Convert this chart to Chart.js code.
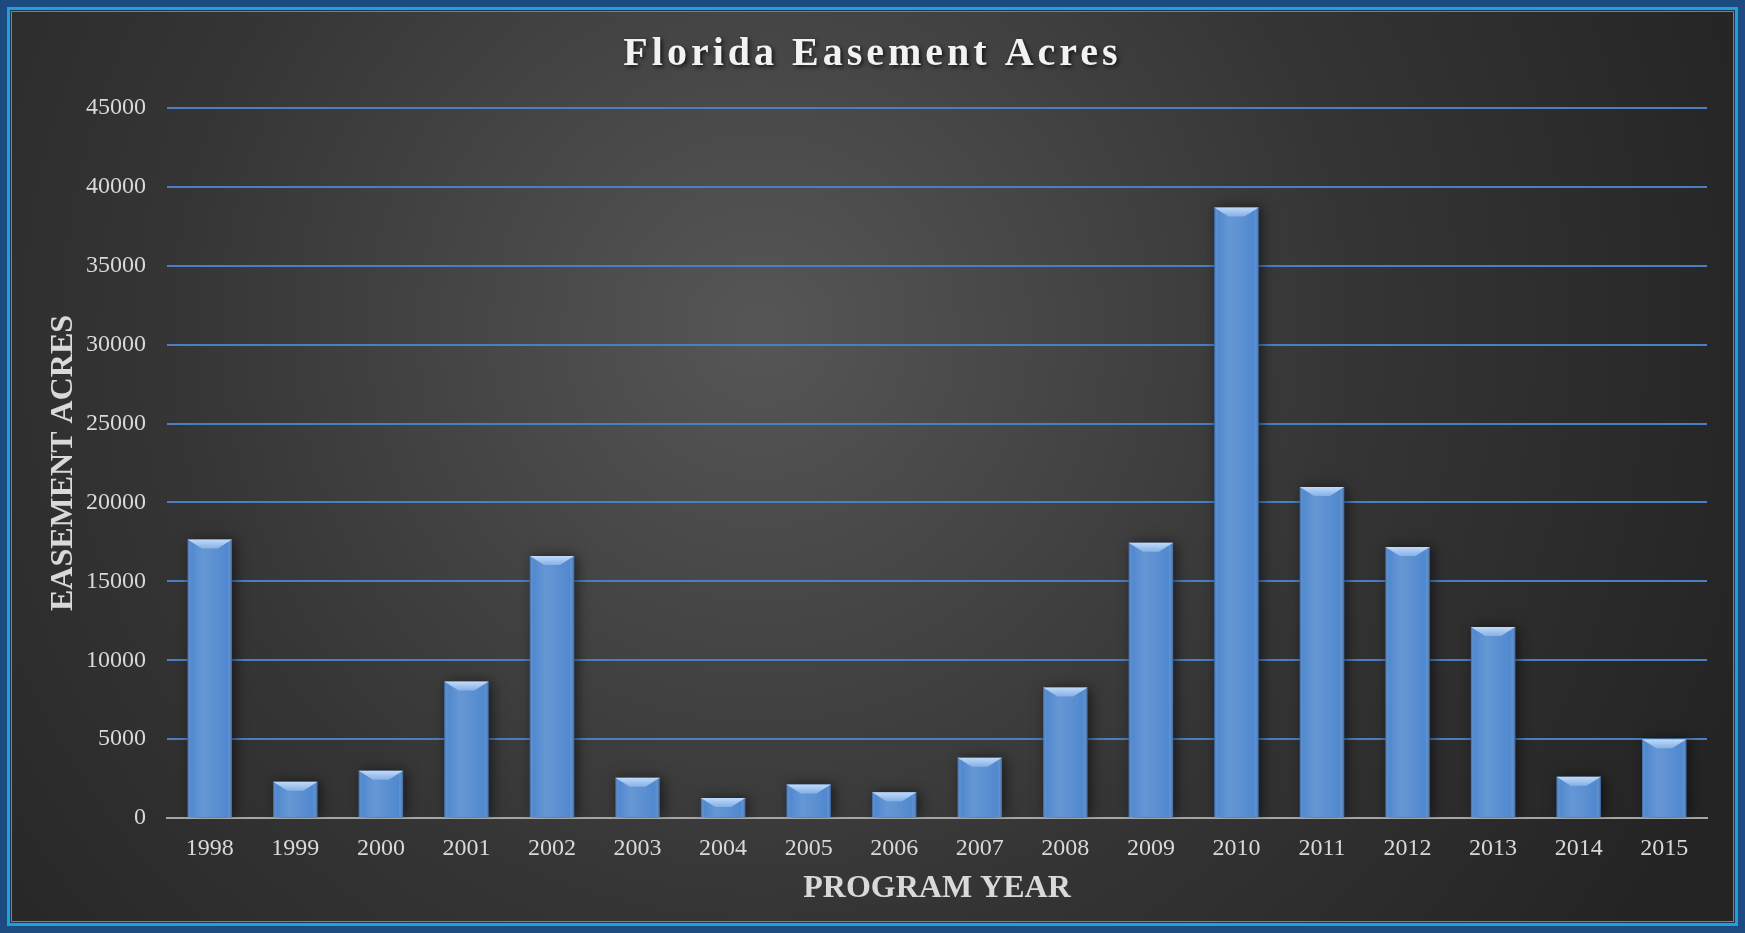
<!DOCTYPE html>
<html>
<head>
<meta charset="utf-8">
<title>Florida Easement Acres</title>
<script src="https://cdn.jsdelivr.net/npm/chart.js@4"></script>
<style>
    html, body { margin: 0; padding: 0; background: #1d4a80; }
    #wrap { width: 1745px; height: 933px; }
</style>
</head>
<body>
<div id="wrap"><canvas id="easement-chart" width="1745" height="933"></canvas></div>
<script>
// Program years and acres
const years = ['1998', '1999', '2000', '2001', '2002', '2003', '2004', '2005', '2006',
               '2007', '2008', '2009', '2010', '2011', '2012', '2013', '2014', '2015'];
const acres = [17650, 2300, 3000, 8650, 16600, 2550, 1270, 2130, 1630,
               3820, 8270, 17450, 38700, 20980, 17170, 12100, 2620, 4990];
const yTicks = [0, 5000, 10000, 15000, 20000, 25000, 30000, 35000, 40000, 45000];
const chartTitle = 'Florida Easement Acres';

const serif = '"Liberation Serif", "Times New Roman", serif';

// Dark panel with a soft light spot and the blue double frame
const framePlugin = {
    id: 'frame',
    beforeDraw(chart) {
        const ctx = chart.ctx;
        const w = chart.width, h = chart.height;
        ctx.save();
        ctx.fillStyle = '#1d4a80';
        ctx.fillRect(0, 0, w, h);
        ctx.fillStyle = '#1aa2dd';
        ctx.fillRect(7, 7, w - 14, h - 14);
        ctx.fillStyle = '#1f3550';
        ctx.fillRect(10, 10, w - 20, h - 20);
        ctx.fillStyle = '#1aa2dd';
        ctx.fillRect(11, 11, w - 22, h - 22);
        const g = ctx.createRadialGradient(760, 330, 20, 760, 330, 1050);
        g.addColorStop(0, '#555555');
        g.addColorStop(0.55, '#353535');
        g.addColorStop(1, '#242424');
        ctx.fillStyle = g;
        ctx.fillRect(12, 12, w - 24, h - 24);
        ctx.restore();
    },
    afterDraw(chart) {
        // title with letter spacing and a drop shadow
        const ctx = chart.ctx;
        ctx.save();
        ctx.font = 'bold 40px ' + serif;
        ctx.letterSpacing = '4px';
        ctx.fillStyle = '#f2f2f2';
        ctx.textAlign = 'center';
        ctx.textBaseline = 'alphabetic';
        ctx.shadowColor = 'rgba(0, 0, 0, 0.7)';
        ctx.shadowBlur = 4;
        ctx.shadowOffsetX = 2;
        ctx.shadowOffsetY = 2;
        ctx.fillText(chartTitle, chart.width / 2, 65);
        ctx.restore();
    }
};

// Shadow under the bars, then a shine and a bevelled top on each one
const bevelPlugin = {
    id: 'bevel',
    beforeDatasetDraw(chart) {
        const ctx = chart.ctx;
        ctx.save();
        ctx.shadowColor = 'rgba(0, 0, 0, 0.55)';
        ctx.shadowBlur = 12;
        ctx.shadowOffsetX = 3;
        ctx.shadowOffsetY = 0;
    },
    afterDatasetDraw(chart) {
        const ctx = chart.ctx;
        ctx.restore();
        const bars = chart.getDatasetMeta(0).data;
        bars.forEach(bar => {
            const left = bar.x - bar.width / 2;
            const right = bar.x + bar.width / 2;
            const top = bar.y;
            const bottom = bar.base;
            ctx.save();
            // side shading
            const sg = ctx.createLinearGradient(left, 0, right, 0);
            sg.addColorStop(0, 'rgba(20, 45, 90, 0.4)');
            sg.addColorStop(0.08, 'rgba(255, 255, 255, 0.0)');
            sg.addColorStop(0.35, 'rgba(255, 255, 255, 0.12)');
            sg.addColorStop(0.9, 'rgba(255, 255, 255, 0.0)');
            sg.addColorStop(1, 'rgba(20, 45, 90, 0.45)');
            ctx.fillStyle = sg;
            ctx.fillRect(left, top, right - left, bottom - top);
            // bevelled top
            const bh = Math.min(9, (bottom - top) / 2);
            const tg = ctx.createLinearGradient(0, top, 0, top + bh);
            tg.addColorStop(0, '#c0dbf9');
            tg.addColorStop(1, '#86b0e6');
            ctx.fillStyle = tg;
            ctx.beginPath();
            ctx.moveTo(left, top);
            ctx.lineTo(right, top);
            ctx.lineTo(right - bh * 1.6, top + bh);
            ctx.lineTo(left + bh * 1.6, top + bh);
            ctx.closePath();
            ctx.fill();
            ctx.restore();
        });
    }
};

function initEasementChart() {
    const canvas = document.getElementById('easement-chart');
    const ctx = canvas.getContext('2d');

    new Chart(ctx, {
        type: 'bar',
        data: {
            labels: years,
            datasets: [{
                label: 'Easement Acres',
                data: acres,
                backgroundColor: '#5189cf',
                borderWidth: 0,
                barPercentage: 0.52,
                categoryPercentage: 1.0
            }]
        },
        options: {
            responsive: false,
            animation: false,
            layout: {
                padding: { top: 108, right: 38, bottom: 25, left: 45 }
            },
            plugins: {
                legend: { display: false },
                tooltip: { enabled: false },
                title: { display: false }
            },
            scales: {
                x: {
                    afterFit(axis) { axis.height = 90; },
                    grid: { display: false },
                    border: { display: true, color: '#a6a6a6', width: 2 },
                    ticks: {
                        color: '#d9d9d9',
                        font: { family: serif, size: 24 },
                        padding: 8,
                        maxRotation: 0
                    },
                    title: {
                        display: true,
                        text: 'PROGRAM YEAR',
                        color: '#d9d9d9',
                        font: { family: serif, size: 32, weight: 'bold' },
                        padding: { top: 0, bottom: 0 }
                    }
                },
                y: {
                    min: 0,
                    max: 45000,
                    afterFit(axis) { axis.width = 122; },
                    afterBuildTicks(axis) {
                        axis.ticks = yTicks.map(v => ({ value: v }));
                    },
                    grid: {
                        color: '#4a7fc0',
                        lineWidth: 2,
                        drawTicks: false
                    },
                    border: { display: false },
                    ticks: {
                        color: '#d9d9d9',
                        font: { family: serif, size: 24 },
                        padding: 21,
                        callback: value => String(value)
                    },
                    title: {
                        display: true,
                        text: 'EASEMENT ACRES',
                        color: '#d9d9d9',
                        font: { family: serif, size: 32, weight: 'bold' },
                        padding: { top: 0, bottom: 0 }
                    }
                }
            }
        },
        plugins: [framePlugin, bevelPlugin]
    });
}

document.addEventListener('DOMContentLoaded', initEasementChart);
</script>
</body>
</html>
